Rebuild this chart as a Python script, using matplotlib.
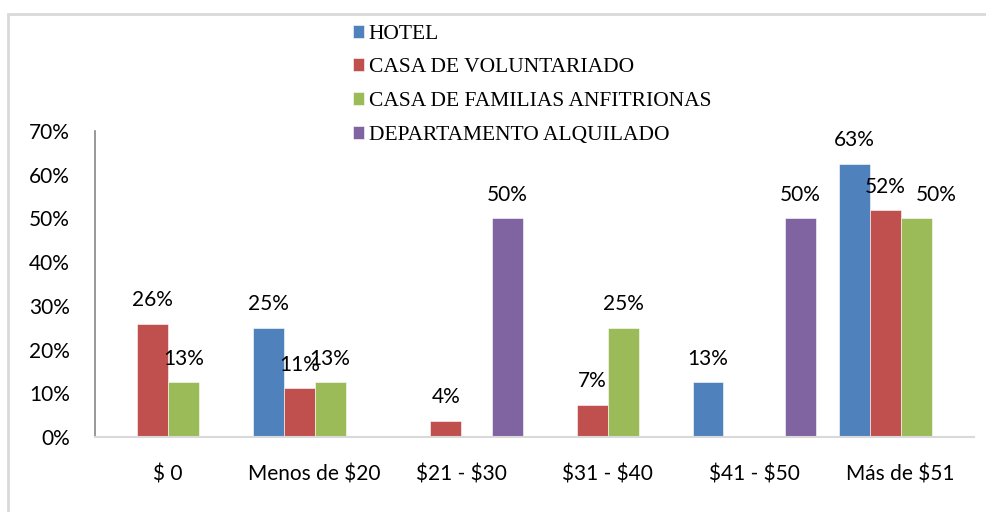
import matplotlib.pyplot as plt
import numpy as np
from matplotlib.patches import Rectangle

plt.rcParams['text.parse_math'] = False

# datos
categorias = ['$ 0', 'Menos de $20', '$21 - $30', '$31 - $40', '$41 - $50', 'Más de $51']
series = ['HOTEL', 'CASA DE VOLUNTARIADO', 'CASA DE FAMILIAS ANFITRIONAS', 'DEPARTAMENTO ALQUILADO']
hotel = [0, 0.25, 0, 0, 0.125, 0.625]
voluntariado = [0.259, 0.111, 0.037, 0.074, 0, 0.519]
familias = [0.125, 0.125, 0, 0.25, 0, 0.50]
departamento = [0, 0, 0.50, 0, 0.50, 0]
colores = ['#4F81BD', '#C0504D', '#9BBB59', '#8064A2']

valores = [hotel, voluntariado, familias, departamento]

fig = plt.figure(figsize=(9.87, 5.12), dpi=100)
ax = fig.add_axes([95/987, 75/512, 879/987, 306/512])

# borde del area del grafico
fig.patches.append(Rectangle((8/987, -0.1), 1.2, (512-14)/512 + 0.1, transform=fig.transFigure,
                             fill=False, edgecolor='#D9D9D9', linewidth=2))

x = np.arange(len(categorias))
ancho = 0.21
for i, (nombre, vals) in enumerate(zip(series, valores)):
    pos = x + (i - 1.5) * ancho
    ax.bar(pos, vals, ancho, color=colores[i], edgecolor='#FFFFFF', linewidth=0.4, label=nombre)
    for j, v in enumerate(vals):
        if v > 0:
            dx = 20 if (i == 2 and j == 5) else 0
            ax.annotate(f'{int(v * 100 + 0.5)}%', (pos[j], v), xytext=(dx * 0.72, 12.5),
                        textcoords='offset points', ha='center', va='baseline',
                        fontsize=15, family='Lato', color='#000000')

ax.set_xlim(-0.5, 5.5)
ax.set_ylim(0, 0.7)
ax.set_yticks(np.arange(0, 0.71, 0.1))
ax.set_yticklabels([f'{t}%' for t in range(0, 71, 10)])
ax.set_xticks(x)
ax.set_xticklabels(categorias)
ax.tick_params(axis='y', length=0, pad=18, labelsize=15)
ax.tick_params(axis='x', length=0, pad=20, labelsize=15)
for lab in ax.get_xticklabels() + ax.get_yticklabels():
    lab.set_family('Lato')

ax.spines['top'].set_visible(False)
ax.spines['right'].set_visible(False)
ax.spines['left'].set_color('#868686')
ax.spines['left'].set_linewidth(1.2)
ax.spines['bottom'].set_color('#D9D9D9')
ax.spines['bottom'].set_linewidth(1.5)

leg = fig.legend(loc='upper left', bbox_to_anchor=(344/987, 1 - 16/512), frameon=False,
                 prop={'family': 'Liberation Serif', 'size': 15.5}, handlelength=0.55,
                 handleheight=0.55, handletextpad=0.2, labelspacing=0.68, borderaxespad=0)

fig.savefig('out.png', dpi=100)
